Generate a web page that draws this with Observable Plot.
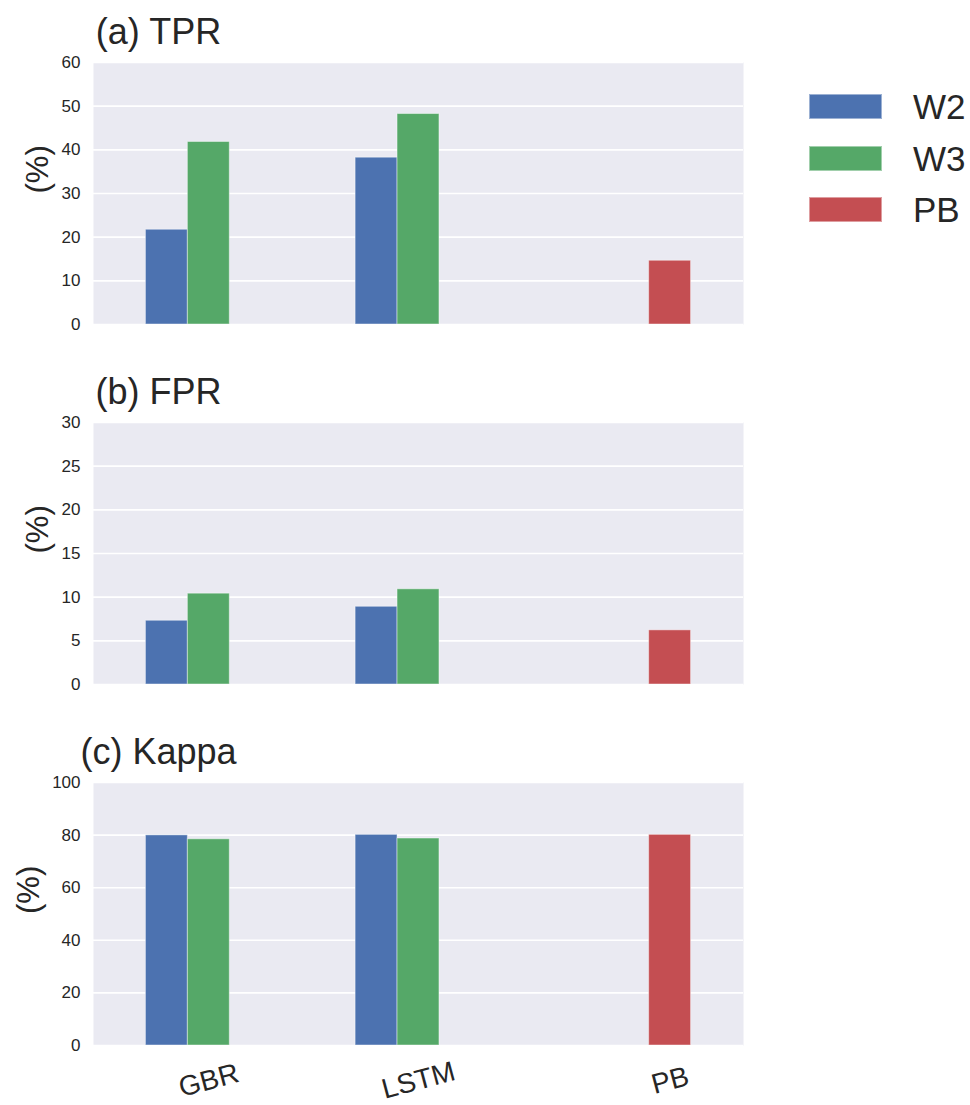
<!DOCTYPE html>
<html>
<head>
<meta charset="utf-8">
<script src="https://cdn.jsdelivr.net/npm/d3@7"></script>
<script src="https://cdn.jsdelivr.net/npm/@observablehq/plot@0.6"></script>
<style>
  html, body { margin: 0; padding: 0; background: #fff; }
  body { width: 970px; height: 1105px; position: relative; overflow: hidden;
         font-family: "Liberation Sans", Arial, Helvetica, sans-serif; color: #262626; }
  #charts svg { display: block; }
  #legend { position: absolute; left: 809px; top: 94px; }
  .lg-row { display: flex; align-items: center; height: 25px; margin-bottom: 26.5px; }
  .lg-sw { width: 73px; height: 25px; box-sizing: border-box; border: 1px solid rgba(255,255,255,0.45); }
  .lg-lab { margin-left: 31px; font-size: 35px; line-height: 25px; color: #262626; }
</style>
</head>
<body>
<div id="charts"></div>
<div id="legend"></div>
<script>
// ---- data ----
const categories = ["GBR", "LSTM", "PB"];
const series = ["W2", "W3", "PB"];
const seriesColors = ["#4C72B0", "#55A868", "#C44E52"];

const tprW2 = [21.7, 38.2, null];
const tprW3 = [41.8, 48.2, null];
const tprPB = [null, null, 14.6];

const fprW2 = [7.3, 8.9, null];
const fprW3 = [10.4, 10.9, null];
const fprPB = [null, null, 6.2];

const kappaW2 = [79.9, 80.1, null];
const kappaW3 = [78.4, 78.7, null];
const kappaPB = [null, null, 80.1];

const panelTitles = ["(a) TPR", "(b) FPR", "(c) Kappa"];
const yLabel = "(%)";
const tprTicks = [0, 10, 20, 30, 40, 50, 60];
const fprTicks = [0, 5, 10, 15, 20, 25, 30];
const kappaTicks = [0, 20, 40, 60, 80, 100];
// series slot within each category group at which the category label sits
const labelSlots = ["W3", "W3", "PB"];

// band-scale domain: one slot per (category, series), two empty slots between groups
const GAP_SLOTS = 2;
const key = (c, s) => c + "|" + s;
const xDomain = [];
categories.forEach((c, i) => {
  if (i > 0) for (let g = 0; g < GAP_SLOTS; g++) xDomain.push("gap" + i + "_" + g);
  series.forEach((s) => xDomain.push(key(c, s)));
});

function toRows(w2, w3, pb) {
  const rows = [];
  categories.forEach((c, i) => {
    [w2, w3, pb].forEach((arr, j) => {
      if (arr[i] != null) rows.push({slot: key(c, series[j]), ser: series[j], value: arr[i]});
    });
  });
  return rows;
}

const panels = [
  {title: panelTitles[0], rows: toRows(tprW2, tprW3, tprPB), ticks: tprTicks},
  {title: panelTitles[1], rows: toRows(fprW2, fprW3, fprPB), ticks: fprTicks},
  {title: panelTitles[2], rows: toRows(kappaW2, kappaW3, kappaPB), ticks: kappaTicks}
];

const FONT = '"Liberation Sans", Arial, Helvetica, sans-serif';
const charts = document.getElementById("charts");

panels.forEach((p, k) => {
  const last = k === panels.length - 1;
  const labelRows = categories.map((c, i) => ({slot: key(c, labelSlots[i]), label: c}));
  const maxDigits = d3.max(p.ticks, (t) => String(t).length);
  const marks = [
    Plot.frame({fill: "#EAEAF2", stroke: null}),
    Plot.gridY(p.ticks, {stroke: "#ffffff", strokeOpacity: 1, strokeWidth: 1.6}),
    Plot.barY(p.rows, {
      x: "slot", y: "value", fill: "ser",
      stroke: "#ffffff", strokeOpacity: 0.45, strokeWidth: 1
    }),
    Plot.axisY(p.ticks, {tickSize: 0, tickPadding: 13, fontSize: 17,
      fill: "#262626", label: null}),
    Plot.text([yLabel], {frameAnchor: "left", dx: -36 - 9.5 * maxDigits, rotate: -90,
      fontSize: 31, fill: "#262626"}),
    Plot.text([p.title], {frameAnchor: "top-left", dx: 65, dy: -19,
      textAnchor: "middle", lineAnchor: "bottom", fontSize: 36, fill: "#262626"})
  ];
  if (last) {
    marks.push(Plot.text(labelRows, {
      x: "slot", text: "label", frameAnchor: "bottom", dy: 35,
      rotate: -15, fontSize: 28, fill: "#262626", lineAnchor: "middle"
    }));
  }
  const chart = Plot.plot({
    width: 970,
    height: last ? 385 : 360,
    marginLeft: 93,
    marginRight: 227,
    marginTop: 62,
    marginBottom: last ? 60 : 36,
    style: {fontFamily: FONT, background: "#ffffff", color: "#262626", overflow: "visible"},
    x: {type: "band", domain: xDomain, paddingInner: 0, paddingOuter: 1.25, round: false, axis: null},
    y: {domain: [p.ticks[0], p.ticks[p.ticks.length - 1]], axis: null},
    color: {domain: series, range: seriesColors},
    marks
  });
  charts.appendChild(chart);
});

// legend
const legend = document.getElementById("legend");
series.forEach((s, i) => {
  const row = document.createElement("div");
  row.className = "lg-row";
  const sw = document.createElement("div");
  sw.className = "lg-sw";
  sw.style.background = seriesColors[i];
  const lab = document.createElement("div");
  lab.className = "lg-lab";
  lab.textContent = s;
  row.appendChild(sw);
  row.appendChild(lab);
  legend.appendChild(row);
});
</script>
</body>
</html>
